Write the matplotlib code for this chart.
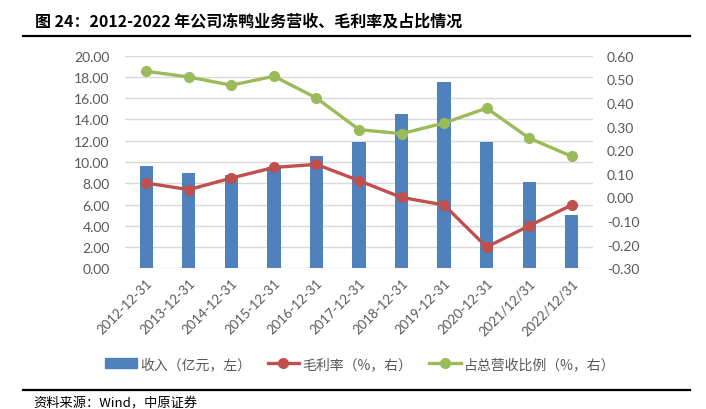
import matplotlib
matplotlib.use("Agg")
import matplotlib.pyplot as plt
from matplotlib.lines import Line2D
from matplotlib.patches import Patch

categories = ["2012-12-31", "2013-12-31", "2014-12-31", "2015-12-31", "2016-12-31",
              "2017-12-31", "2018-12-31", "2019-12-31", "2020-12-31", "2021/12/31", "2022/12/31"]
revenue = [9.65, 8.95, 8.75, 9.5, 10.6, 11.85, 14.5, 17.5, 11.85, 8.1, 5.05]
gross_margin = [0.061, 0.033, 0.082, 0.127, 0.140, 0.071, 0.000, -0.032, -0.210, -0.120, -0.032]
share = [0.534, 0.510, 0.475, 0.513, 0.421, 0.287, 0.270, 0.315, 0.378, 0.251, 0.174]
left_ticks = [0, 2, 4, 6, 8, 10, 12, 14, 16, 18, 20]
right_ticks = [-0.3, -0.2, -0.1, 0.0, 0.1, 0.2, 0.3, 0.4, 0.5, 0.6]

title = "图 24：2012-2022 年公司冻鸭业务营收、毛利率及占比情况"
source = "资料来源：Wind，中原证券"
legend_labels = ["收入（亿元，左）", "毛利率（%，右）", "占总营收比例（%，右）"]

CJK = ["Noto Sans CJK SC", "DejaVu Sans"]
NUM = ["Lato", "DejaVu Sans"]
GRAY = "#595959"
BLUE, RED, GREEN = "#4F81BD", "#C0504D", "#9BBB59"

fig = plt.figure(figsize=(7.06, 4.10), dpi=100)
ax = fig.add_axes([125/706, 1-269.3/410, 468/706, 212.6/410])
ax2 = ax.twinx()

x = list(range(len(categories)))
ax.bar(x, revenue, width=0.31, color=BLUE, zorder=2)
ax.set_xlim(-0.5, len(categories) - 0.5)
ax.set_ylim(0, 20)
ax.set_yticks(left_ticks)
ax.set_yticklabels([f"{v:.2f}" for v in left_ticks], fontfamily=NUM, fontsize=10, color=GRAY)
ax.yaxis.grid(True, color="#D9D9D9", linewidth=1.0, zorder=0)
ax.set_axisbelow(True)

ax2.plot(x, gross_margin, color=RED, linewidth=2.4, marker="o", markersize=7, zorder=3)
ax2.plot(x, share, color=GREEN, linewidth=2.4, marker="o", markersize=7, zorder=3)
ax2.set_ylim(-0.3, 0.6)
ax2.set_yticks(right_ticks)
ax2.set_yticklabels([f"{v:.2f}" for v in right_ticks], fontfamily=NUM, fontsize=10, color=GRAY)

ax.set_xticks(x)
ax.set_xticklabels(categories, rotation=45, ha="right", rotation_mode="anchor",
                   fontfamily=NUM, fontsize=9.5, color=GRAY)

for a in (ax, ax2):
    for s in a.spines.values():
        s.set_visible(False)
    a.tick_params(length=0)
ax.tick_params(axis="y", pad=11)
ax2.tick_params(axis="y", pad=10)
ax.tick_params(axis="x", pad=6)

handles = [Patch(color=BLUE),
           Line2D([0], [0], color=RED, linewidth=2.4, marker="o", markersize=7),
           Line2D([0], [0], color=GREEN, linewidth=2.4, marker="o", markersize=7)]
leg = fig.legend(handles, legend_labels, loc="center", bbox_to_anchor=(0.51, 1-365/410),
                 ncol=3, frameon=False, prop={"family": CJK, "size": 10},
                 handlelength=2.3, columnspacing=1.2, handletextpad=0.2)
for t in leg.get_texts():
    t.set_color(GRAY)

fig.text(35/706, 1-22/410, title, fontfamily=CJK, fontsize=11.5, fontweight="bold",
         va="center", ha="left", color="#000000")
fig.add_artist(Line2D([23/706, 690/706], [1-37/410, 1-37/410], color="black", linewidth=1.6))
fig.add_artist(Line2D([23/706, 690/706], [1-391/410, 1-391/410], color="black", linewidth=1.6))
fig.text(33/706, 1-404/410, source, fontfamily=CJK, fontsize=9.5, va="center", ha="left", color="#000000")

fig.savefig("out.png", dpi=100)
